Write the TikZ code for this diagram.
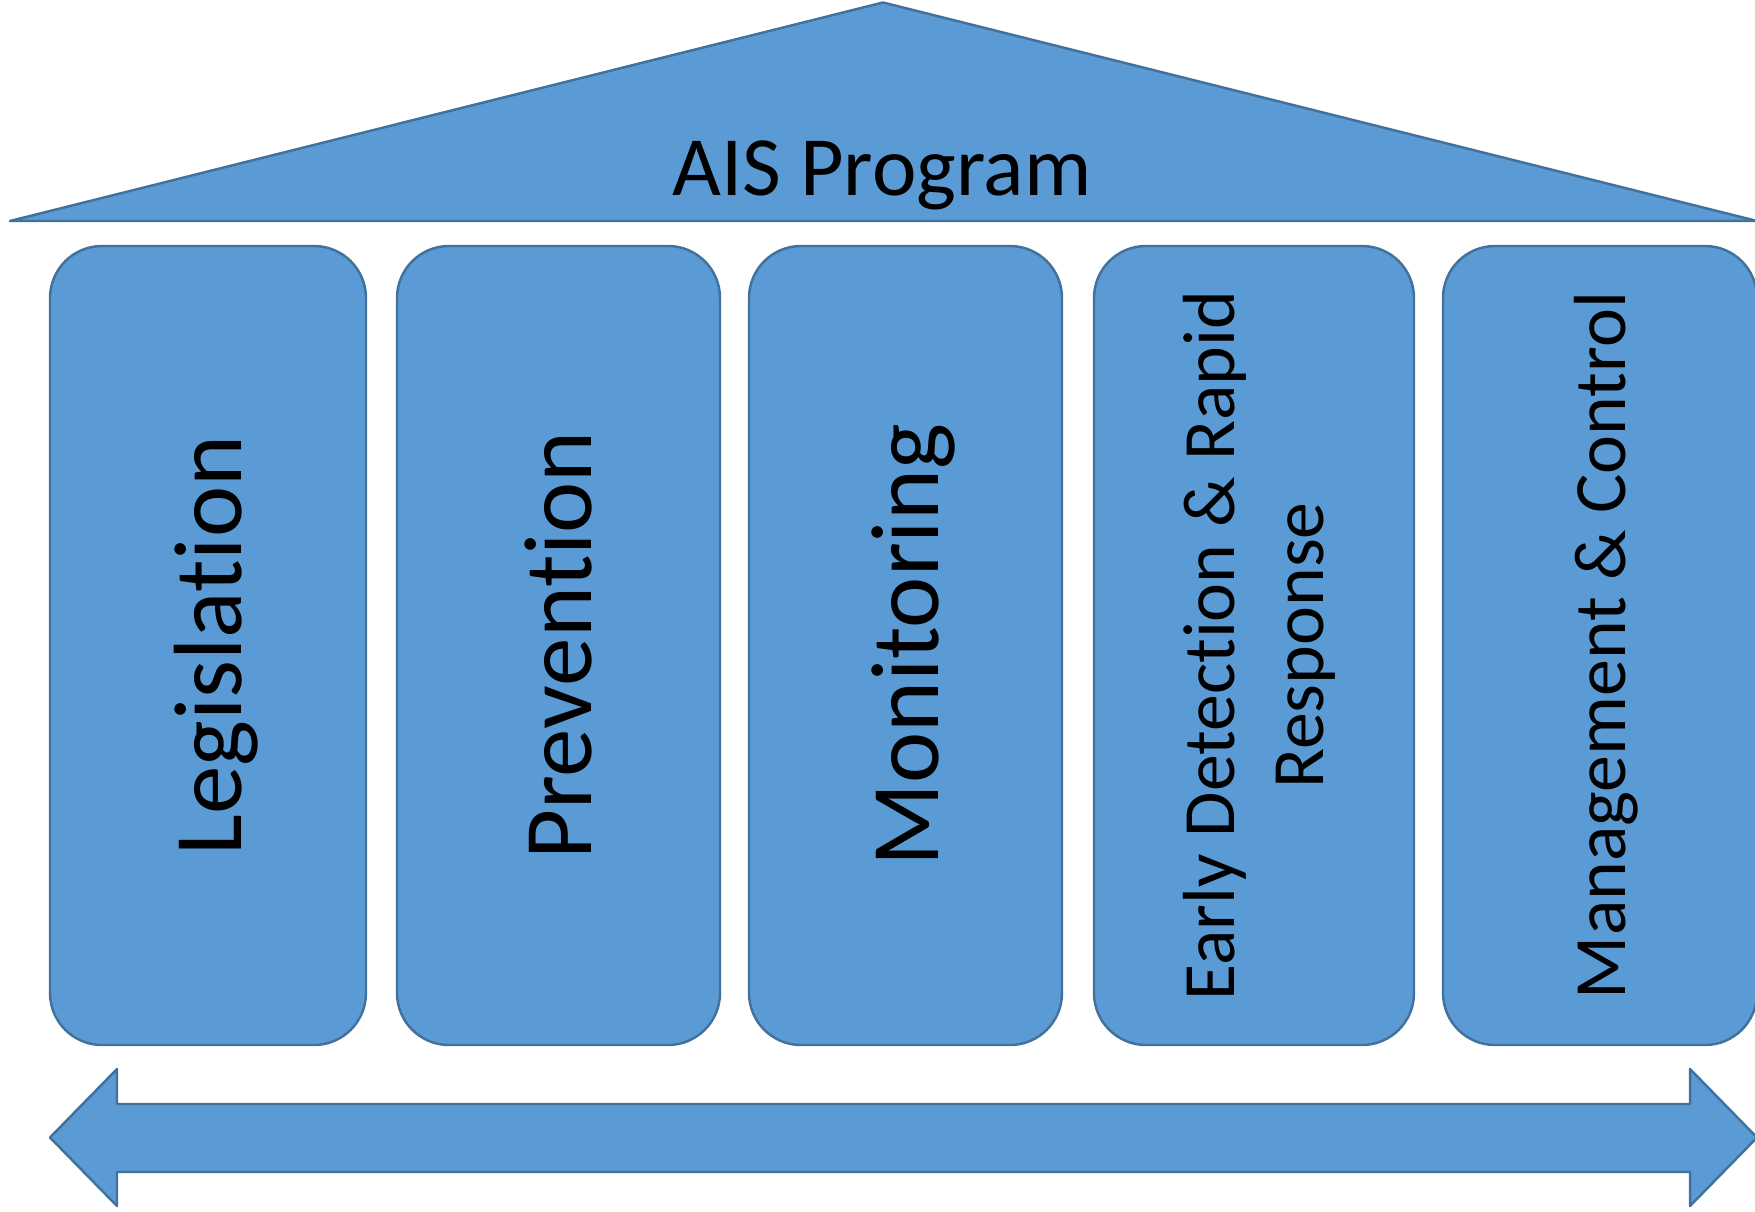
\documentclass[tikz,border=0pt]{standalone}
\usepackage{fontspec}
\setmainfont{Carlito}[Ligatures=NoCommon]
\usepackage{xcolor}
\usepackage{tikz}
\definecolor{pptblue}{HTML}{5B9BD5}
\definecolor{pptedge}{HTML}{41719C}

\tikzset{
  part/.style={draw=pptedge, fill=pptblue, line width=0.7pt, line join=round},
  pillar/.style={part, rounded corners=0.52cm, rotate=90, inner sep=0pt,
    minimum width=7.99cm, align=center},
  bigtxt/.style={font=\fontsize{27.6}{33}\selectfont, text height=0.92cm, text depth=0.26cm},
  smalltxt/.style={font=\fontsize{21}{25.5}\selectfont, text height=0.70cm, text depth=0.20cm}
}

\begin{document}
\begin{tikzpicture}
      \useasboundingbox (0,0) rectangle (17.55,12.11);
      % roof: base at y=9.90, apex at 12.085
      \draw[part] (0.10,9.90) -- (8.83,12.085) -- (17.57,9.90) -- cycle;
      \node[font=\fontsize{24}{29}\selectfont, anchor=base] (prog) at (8.82,10.16) {AIS Program};
      % pillars: centre x, width; all between y=1.66 and 9.65
      \node[pillar, bigtxt, minimum height=3.16cm] (legis) at (2.08,5.655) {Legislation};
      \node[pillar, bigtxt, minimum height=3.23cm] (prev) at (5.585,5.655) {Prevention};
      \node[pillar, bigtxt, minimum height=3.13cm] (monit) at (9.055,5.655) {Monitoring};
      \node[pillar, font=\fontsize{21}{25.5}\selectfont, minimum height=3.20cm] (edrr) at (12.54,5.655)
        {\rule{0pt}{0.70cm}Early Detection \& Rapid\\Response\rule[-0.20cm]{0pt}{0pt}};
      \node[pillar, smalltxt, minimum height=3.14cm] (mgmt) at (16.00,5.655) {Management \& Control};
      % double arrow along the floor
      \draw[part] (0.50,0.735) -- (1.17,1.42) -- (1.17,1.07) -- (16.90,1.07) -- (16.90,1.42)
        -- (17.57,0.735) -- (16.90,0.05) -- (16.90,0.39) -- (1.17,0.39) -- (1.17,0.05) -- cycle;
    \end{tikzpicture}
\end{document}
